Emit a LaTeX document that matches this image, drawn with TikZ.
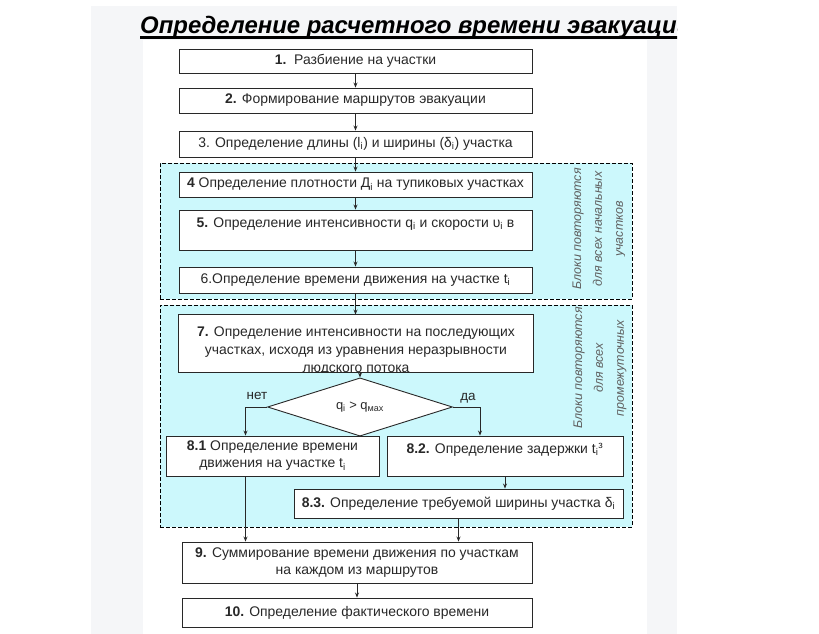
\documentclass[tikz,border=0pt]{standalone}
\usepackage{fontspec}
\setmainfont{Liberation Sans}
\usetikzlibrary{arrows.meta,shapes.geometric,calc}
\definecolor{panel}{RGB}{245,246,248}
\definecolor{cyanfill}{RGB}{204,248,252}
\definecolor{ink}{RGB}{40,40,40}
\definecolor{sidegray}{RGB}{95,95,95}
\begin{document}
\begin{tikzpicture}[x=1bp,y=-1bp,
  box/.style={draw=ink, line width=0.9bp, fill=white, text=ink, font=\fontsize{14}{17}\selectfont, align=center, inner sep=0pt},
  region/.style={draw=black, dash pattern=on 4bp off 2bp, line width=0.8bp, fill=cyanfill, inner sep=0pt},
  arr/.style={draw=ink, line width=0.9bp, -{Stealth[length=5bp,width=4bp]}},
  side/.style={rotate=90, text=sidegray, font=\fontsize{12.5}{21}\selectfont\itshape, align=center},
  lbl/.style={text=ink, font=\fontsize{13.5}{16}\selectfont}]
\useasboundingbox (0,0) rectangle (819,634);
\fill[white] (0,0) rectangle (819,634);
\fill[panel] (91,6) rectangle (677,634);
\fill[white] (143,40) rectangle (647,634);
% title
\begin{scope}
\clip (91,0) rectangle (677,50);
\node[anchor=base west, inner sep=0pt, font=\fontsize{24}{28}\selectfont\bfseries\itshape] (title) at (140,34) {Определение расчетного времени эвакуации};
\draw[line width=2.2bp] ([yshift=-3.5bp]title.base west) -- ([yshift=-3.5bp]title.base east);
\end{scope}
% regions
\node[region, minimum width=472bp, minimum height=136bp] (r1) at (396,231) {};
\node[region, minimum width=472bp, minimum height=222bp] (r2) at (396,416) {};
% side texts
\begin{scope}
\clip (560,165) rectangle (624,297);
\node[side] (s1) at (599,229) {Блоки повторяются\\для всех начальных\\участков};
\end{scope}
\node[side] (s2) at (600,368) {Блоки повторяются\\для всех\\промежуточных};
% boxes
\node[box, minimum width=353bp, minimum height=24bp] (b1) at (355.5,61) {\textbf{1.}\ \ Разбиение на участки};
\node[box, minimum width=353bp, minimum height=25bp] (b2) at (355.5,100.5) {\textbf{2.} Формирование маршрутов эвакуации};
\node[box, minimum width=353bp, minimum height=26bp] (b3) at (355.5,144) {3. Определение длины (l\textsubscript{i}) и ширины (δ\textsubscript{i}) участка};
\node[box, minimum width=353bp, minimum height=25bp] (b4) at (355.5,184.5) {\textbf{4} Определение плотности Д\textsubscript{i} на тупиковых участках};
\node[box, minimum width=353bp, minimum height=40bp] (b5) at (355.5,230) {\textbf{5.} Определение интенсивности q\textsubscript{i} и скорости υ\textsubscript{i} в\\[-2bp]\mbox{}};
\node[box, minimum width=353bp, minimum height=26bp] (b6) at (355.5,280) {6.Определение времени движения на участке t\textsubscript{i}};
\node[box, draw=none, minimum width=354bp, minimum height=57bp] (b7) at (356,343.5) {};
\begin{scope}
\clip (b7.south west) rectangle (b7.north east);
\node[anchor=north, text=ink, align=center, font=\fontsize{14}{18}\selectfont, inner sep=0pt] (t7) at ([yshift=-12.5bp]b7.north) {\textbf{7.} Определение интенсивности на последующих\\участках, исходя из уравнения неразрывности\\людского потока};
\end{scope}
\draw[ink, line width=0.9bp] (b7.south west) rectangle (b7.north east);
\node[diamond, draw=ink, line width=0.9bp, fill=white, text=ink, inner sep=0pt, minimum width=185bp, minimum height=40bp, font=\fontsize{13}{15}\selectfont] (d) at (360,407) {q\textsubscript{i} > q\textsubscript{мах}};
\node[box, minimum width=213bp, minimum height=40bp] (b81) at (272.5,456) {\textbf{8.1} Определение времени\\движения на участке t\textsubscript{i}};
\node[box, minimum width=236bp, minimum height=40bp] (b82) at (505,456) {\textbf{8.2.} Определение задержки t\textsubscript{i}\textsuperscript{з}\\[-2bp]\mbox{}};
\node[box, minimum width=329bp, minimum height=29bp] (b83) at (458.5,503.5) {\textbf{8.3.} Определение требуемой ширины участка δ\textsubscript{i}};
\node[box, minimum width=350bp, minimum height=41bp] (b9) at (357,562.5) {\textbf{9.} Суммирование времени движения по участкам\\на каждом из маршрутов};
\node[box, minimum width=350bp, minimum height=29bp] (b10) at (357,612.5) {\textbf{10.} Определение фактического времени};
\node[lbl] (no) at (257,396) {нет};
\node[lbl] (yes) at (468,398) {да};
% connectors
\draw[arr] (b1) -- (b2);
\draw[arr] (b2) -- (b3);
\draw[arr] (b3.south) -- (b3.south |- b4.north);
\draw[arr] (b4) -- (b5);
\draw[arr] (b5) -- (b6);
\draw[arr] (b6.south) -- (b6.south |- b7.north);
\draw[arr] (b7.south -| d.north) -- (d.north);
\draw[arr] (d.west) -| ([xshift=-27bp]b81.north);
\draw[arr] (d.east) -| ([xshift=-25bp]b82.north);
\draw[arr] (b82.south) -- (b82.south |- b83.north);
\draw[arr] ([xshift=-27bp]b81.south) -- ([xshift=-27bp]b81.south |- b9.north);
\draw[arr] (b83.south) -- (b83.south |- b9.north);
\draw[arr] (b9) -- (b10);
\end{tikzpicture}
\end{document}
